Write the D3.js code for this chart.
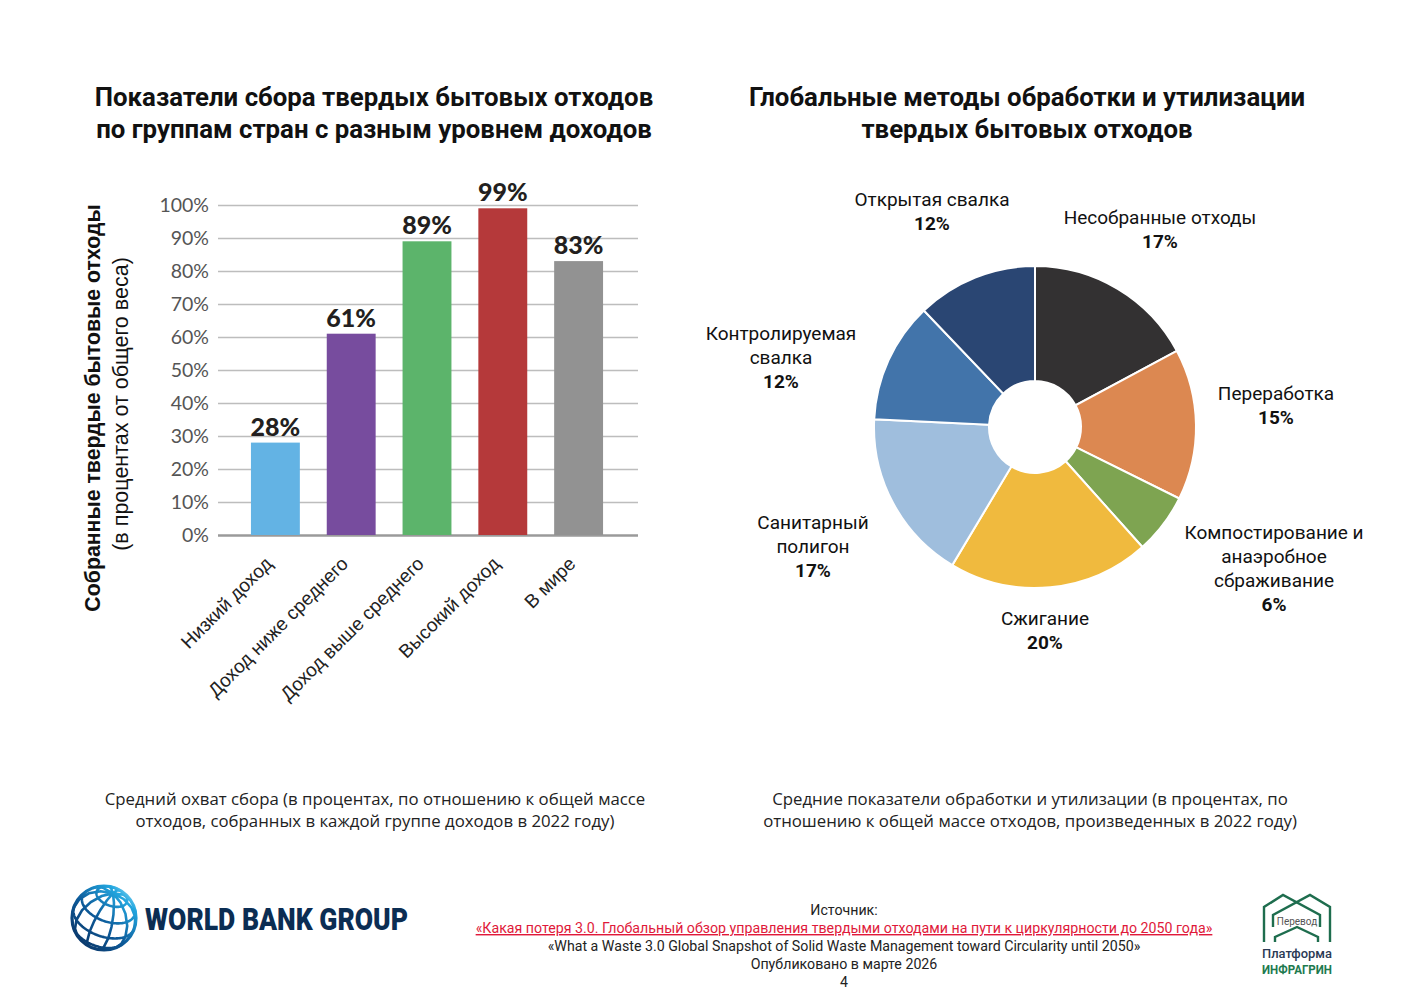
<!DOCTYPE html>
<html>
<head>
<meta charset="utf-8">
<script src="https://cdn.jsdelivr.net/npm/d3@7"></script>
<style>
body { margin: 0; background: #fff; }
svg { display: block; }
.grid .tick line { stroke: #bdbdbd; stroke-width: 1.5; }
.grid .domain { display: none; }
</style>
</head>
<body>
<script>
var width = 1403, height = 992;

// bar chart data
var groups = ["Низкий доход", "Доход ниже среднего", "Доход выше среднего", "Высокий доход", "В мире"];
var collected = [28, 61, 89, 99, 83];
var barColors = ["#63b3e4", "#774c9e", "#5cb46b", "#b5393a", "#929292"];
var yTicks = [0, 10, 20, 30, 40, 50, 60, 70, 80, 90, 100];

// pie data (clockwise from top)
var methods = ["Несобранные отходы", "Переработка", "Компостирование и анаэробное сбраживание", "Сжигание", "Санитарный полигон", "Контролируемая свалка", "Открытая свалка"];
var shares = [17, 15, 6, 20, 17, 12, 12];
var pieColors = ["#333132", "#dc8851", "#7ea451", "#f0ba3e", "#9fbedd", "#4274aa", "#2a4673"];
var labelLines = [["Несобранные отходы"], ["Переработка"], ["Компостирование и", "анаэробное", "сбраживание"], ["Сжигание"], ["Санитарный", "полигон"], ["Контролируемая", "свалка"], ["Открытая свалка"]];

var svg = d3.select("body").append("svg")
    .attr("width", width)
    .attr("height", height);

// titles
var titleFont = "Roboto, 'Liberation Sans', sans-serif";
[["Показатели сбора твердых бытовых отходов", "по группам стран с разным уровнем доходов", 374],
 ["Глобальные методы обработки и утилизации", "твердых бытовых отходов", 1027]].forEach(function(t) {
  svg.append("text").attr("x", t[2]).attr("y", 106).attr("text-anchor", "middle")
    .style("font-family", titleFont).style("font-weight", 700).style("font-size", "25.8px").style("fill", "#111")
    .text(t[0]);
  svg.append("text").attr("x", t[2]).attr("y", 138).attr("text-anchor", "middle")
    .style("font-family", titleFont).style("font-weight", 700).style("font-size", "25.8px").style("fill", "#111")
    .text(t[1]);
});

// ---------- bar chart ----------
var y = d3.scaleLinear().domain([0, 100]).range([535, 205]);
var x = d3.scaleBand().domain(groups).range([232, 622]).paddingInner(0.355).paddingOuter(0.25);
var gridLeft = 218, gridRight = 638;

var grid = svg.append("g").attr("class", "grid")
    .attr("transform", "translate(" + gridLeft + ",0)")
    .call(d3.axisLeft(y).tickValues(yTicks).tickSize(-(gridRight - gridLeft)).tickPadding(9)
      .tickFormat(function(d) { return d + "%"; }));
grid.selectAll(".tick text")
    .style("font-family", "Lato, 'Open Sans', sans-serif").style("font-size", "19.5px").style("fill", "#555");
grid.selectAll(".tick").filter(function(d) { return d === 0; }).select("line")
    .style("stroke", "#9a9a9a").style("stroke-width", 2.5);

svg.append("g").selectAll("rect")
    .data(collected).enter()
    .append("rect")
    .attr("x", function(d, i) { return x(groups[i]); })
    .attr("y", function(d) { return y(d); })
    .attr("width", x.bandwidth())
    .attr("height", function(d) { return y(0) - y(d); })
    .attr("fill", function(d, i) { return barColors[i]; });

svg.append("g").selectAll("text")
    .data(collected).enter()
    .append("text")
    .attr("x", function(d, i) { return x(groups[i]) + x.bandwidth() / 2; })
    .attr("y", function(d) { return y(d) - 7; })
    .attr("text-anchor", "middle")
    .style("font-family", "Lato, 'Open Sans', sans-serif").style("font-weight", 900)
    .style("font-size", "25px").style("fill", "#231f20")
    .text(function(d) { return d + "%"; });

var xAxis = svg.append("g")
    .attr("transform", "translate(0,546)")
    .call(d3.axisBottom(x).tickSize(0).tickPadding(0));
xAxis.select(".domain").remove();
xAxis.selectAll(".tick text")
    .attr("text-anchor", "end")
    .attr("dy", "0.3em")
    .attr("transform", "translate(-6,15) rotate(-45)")
    .style("font-family", "'Liberation Sans', Arial, sans-serif").style("font-size", "19px").style("fill", "#222");

svg.append("text")
    .attr("transform", "translate(100,408) rotate(-90)")
    .attr("text-anchor", "middle")
    .style("font-family", "'Liberation Sans', Arial, sans-serif").style("font-weight", 700)
    .style("font-size", "21.3px").style("fill", "#111")
    .text("Собранные твердые бытовые отходы");
svg.append("text")
    .attr("transform", "translate(128,404) rotate(-90)")
    .attr("text-anchor", "middle")
    .style("font-family", "'Liberation Sans', Arial, sans-serif")
    .style("font-size", "21.5px").style("fill", "#111")
    .text("(в процентах от общего веса)");

// ---------- donut ----------
var cx = 1035, cy = 427;
var pie = d3.pie().sort(null).value(function(d) { return d; });
var arc = d3.arc().innerRadius(46).outerRadius(161);
var arcs = pie(shares);

svg.append("g").attr("transform", "translate(" + cx + "," + cy + ")")
  .selectAll("path")
  .data(arcs).enter()
  .append("path")
  .attr("d", arc)
  .attr("fill", function(d, i) { return pieColors[i]; })
  .attr("stroke", "#fff")
  .attr("stroke-width", 2);

// label block centres (layout only)
var labelAt = [[1160, 218], [1276, 394], [1274, 533], [1045, 619], [813, 523], [781, 334], [932, 200]];
var labelFont = "Roboto, 'Liberation Sans', sans-serif";
var lg = svg.append("g");
labelLines.forEach(function(lines, i) {
  var t = lg.append("text").attr("text-anchor", "middle")
    .style("font-family", labelFont).style("font-size", "19px").style("fill", "#111");
  lines.forEach(function(l, k) {
    t.append("tspan").attr("x", labelAt[i][0]).attr("y", labelAt[i][1] + 6 + k * 24).text(l);
  });
  t.append("tspan").attr("x", labelAt[i][0]).attr("y", labelAt[i][1] + 6 + lines.length * 24)
    .style("font-weight", 700).text(shares[i] + "%");
});

// ---------- captions ----------
var capFont = "'Open Sans', 'Noto Sans', sans-serif";
[["Средний охват сбора (в процентах, по отношению к общей массе", "отходов, собранных в каждой группе доходов в 2022 году)", 375],
 ["Средние показатели обработки и утилизации (в процентах, по", "отношению к общей массе отходов, произведенных в 2022 году)", 1030]].forEach(function(c) {
  svg.append("text").attr("x", c[2]).attr("y", 805).attr("text-anchor", "middle")
    .style("font-family", capFont).style("font-size", "16.8px").style("fill", "#222").text(c[0]);
  svg.append("text").attr("x", c[2]).attr("y", 827).attr("text-anchor", "middle")
    .style("font-family", capFont).style("font-size", "16.8px").style("fill", "#222").text(c[1]);
});

// ---------- source ----------
var srcFont = "Roboto, 'Liberation Sans', sans-serif";
var src = [
  ["Источник:", "#222"],
  ["«Какая потеря 3.0. Глобальный обзор управления твердыми отходами на пути к циркулярности до 2050 года»", "#e0193a"],
  ["«What a Waste 3.0 Global Snapshot of Solid Waste Management toward Circularity until 2050»", "#222"],
  ["Опубликовано в марте 2026", "#222"],
  ["4", "#222"]
];
src.forEach(function(s, i) {
  var t = svg.append("text").attr("x", 844).attr("y", 915 + i * 18).attr("text-anchor", "middle")
    .style("font-family", srcFont).style("font-size", "14.2px").style("fill", s[1]).text(s[0]);
  if (i === 1) t.style("text-decoration", "underline");
});

// ---------- World Bank logo ----------
var defs = svg.append("defs");
var grad = defs.append("linearGradient").attr("id", "globe").attr("gradientUnits", "userSpaceOnUse")
  .attr("x1", 74).attr("y1", 950).attr("x2", 136).attr("y2", 886);
grad.append("stop").attr("offset", "0%").attr("stop-color", "#0a2f5e");
grad.append("stop").attr("offset", "45%").attr("stop-color", "#0d5b9a");
grad.append("stop").attr("offset", "80%").attr("stop-color", "#22a6df");
grad.append("stop").attr("offset", "100%").attr("stop-color", "#bdeefc");
var globe = d3.geoOrthographic().scale(32).translate([104, 918]).rotate([20, -35, -20]).clipAngle(90);
var gpath = d3.geoPath().projection(globe);
svg.append("path").datum(d3.geoGraticule().step([36, 30])())
  .attr("d", gpath).attr("fill", "none").attr("stroke", "url(#globe)").attr("stroke-width", 2.6);
svg.append("circle").attr("cx", 104).attr("cy", 918).attr("r", 32)
  .attr("fill", "none").attr("stroke", "url(#globe)").attr("stroke-width", 3.2);
svg.append("text").attr("x", 145).attr("y", 930)
  .attr("textLength", 263).attr("lengthAdjust", "spacingAndGlyphs")
  .style("font-family", "Roboto, 'Liberation Sans', sans-serif").style("font-weight", 900)
  .style("font-size", "31px").style("fill", "#0b2d53")
  .text("WORLD BANK GROUP");

// ---------- Infragreen logo ----------
var ig = svg.append("g").attr("fill", "none").attr("stroke", "#1e6d4e").attr("stroke-width", 2.4);
ig.append("path").attr("d", "M1264,942 V907 L1283,895 L1320,915 V927");
ig.append("path").attr("d", "M1330,942 V907 L1310,895 L1273,915 V927");
ig.append("path").attr("d", "M1275,942 V937 L1297,927 L1318,937 V942");
svg.append("text").attr("x", 1297).attr("y", 925).attr("text-anchor", "middle")
  .style("font-family", srcFont).style("font-size", "10px").style("fill", "#555").text("Перевод");
svg.append("text").attr("x", 1297).attr("y", 958).attr("text-anchor", "middle")
  .attr("textLength", 70).attr("lengthAdjust", "spacingAndGlyphs")
  .style("font-family", srcFont).style("font-weight", 500).style("font-size", "13.5px").style("fill", "#2b3a55").text("Платформа");
svg.append("text").attr("x", 1297).attr("y", 974).attr("text-anchor", "middle")
  .attr("textLength", 70).attr("lengthAdjust", "spacingAndGlyphs")
  .style("font-family", srcFont).style("font-weight", 700).style("font-size", "13.5px").style("fill", "#1e7a4f").text("ИНФРАГРИН");
</script>
</body>
</html>
